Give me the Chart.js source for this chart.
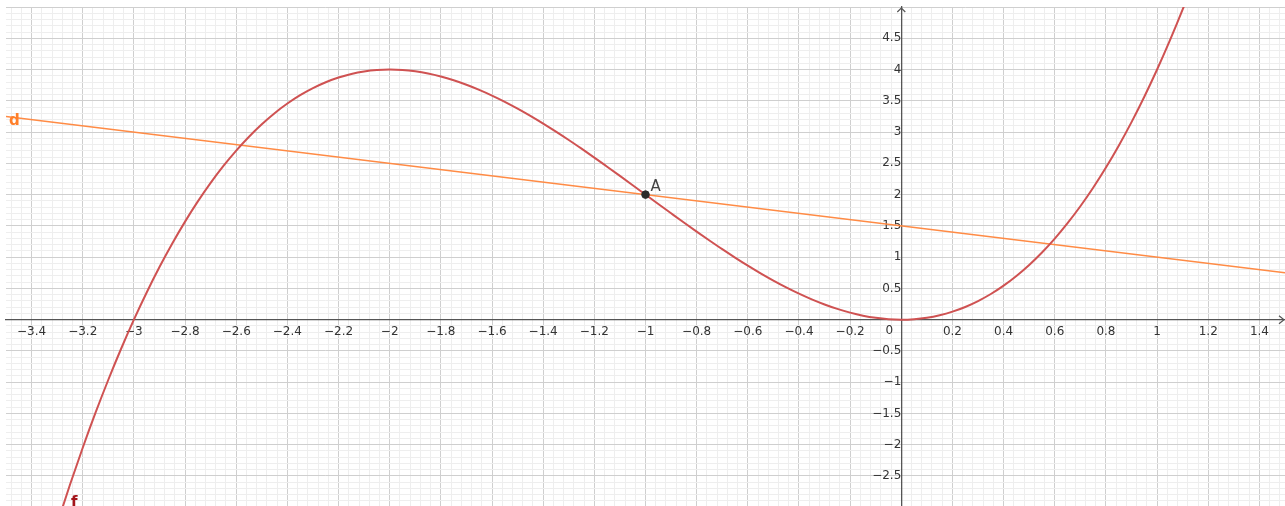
<!DOCTYPE html>
<html>
<head>
<meta charset="utf-8">
<script src="https://cdn.jsdelivr.net/npm/chart.js@4.4.1/dist/chart.umd.min.js"></script>
<style>
  html, body { margin: 0; padding: 0; background: #ffffff; }
  #wrap { width: 1285px; height: 506px; position: relative; }
</style>
</head>
<body>
<div id="wrap"><canvas id="c" width="1285" height="506"></canvas></div>
<script>
// ---- data ----
// curve f
const fX = [-3.30, -3.25, -3.20, -3.15, -3.10, -3.05, -3.00, -2.95, -2.90, -2.85, -2.80, -2.75, -2.70, -2.65,
            -2.60, -2.55, -2.50, -2.45, -2.40, -2.35, -2.30, -2.25, -2.20, -2.15, -2.10, -2.05, -2.00,
            -1.95, -1.90, -1.85, -1.80, -1.75, -1.70, -1.65, -1.60, -1.55, -1.50, -1.45, -1.40, -1.35,
            -1.30, -1.25, -1.20, -1.15, -1.10, -1.05, -1.00, -0.95, -0.90, -0.85, -0.80, -0.75, -0.70,
            -0.65, -0.60, -0.55, -0.50, -0.45, -0.40, -0.35, -0.30, -0.25, -0.20, -0.15, -0.10, -0.05,
            0.00, 0.05, 0.10, 0.15, 0.20, 0.25, 0.30, 0.35, 0.40, 0.45, 0.50, 0.55, 0.60, 0.65, 0.70,
            0.75, 0.80, 0.85, 0.90, 0.95, 1.00, 1.05, 1.10, 1.15];
const fY = [-3.267, -2.641, -2.048, -1.488, -0.961, -0.465, 0.000, 0.435, 0.841, 1.218, 1.568, 1.891, 2.187, 2.458,
            2.704, 2.926, 3.125, 3.302, 3.456, 3.590, 3.703, 3.797, 3.872, 3.929, 3.969, 3.992, 4.000,
            3.993, 3.971, 3.936, 3.888, 3.828, 3.757, 3.675, 3.584, 3.484, 3.375, 3.259, 3.136, 3.007,
            2.873, 2.734, 2.592, 2.446, 2.299, 2.150, 2.000, 1.850, 1.701, 1.553, 1.408, 1.266, 1.127,
            0.993, 0.864, 0.741, 0.625, 0.516, 0.416, 0.325, 0.243, 0.172, 0.112, 0.064, 0.029, 0.007,
            0.000, 0.008, 0.031, 0.071, 0.128, 0.203, 0.297, 0.410, 0.544, 0.699, 0.875, 1.074, 1.296, 1.542, 1.813,
            2.109, 2.432, 2.782, 3.159, 3.565, 4.000, 4.465, 4.961, 5.488];
// line d
const dX = [-3.5, 1.5];
const dY = [3.25, 0.75];
// point A
const aX = [-1];
const aY = [2];
// axis ranges and labelled ticks
const xRange = [-3.5, 1.5];
const yRange = [-2.98, 5.0];
const xTickLabels = [-3.4, -3.2, -3, -2.8, -2.6, -2.4, -2.2, -2, -1.8, -1.6, -1.4, -1.2, -1, -0.8, -0.6, -0.4, -0.2, 0.2, 0.4, 0.6, 0.8, 1, 1.2, 1.4];
const yTickLabels = [4.5, 4, 3.5, 3, 2.5, 2, 1.5, 1, 0.5, -0.5, -1, -1.5, -2, -2.5];
const xMajorStep = 0.2, xMinorStep = 0.04;
const yMajorStep = 0.5, yMinorStep = 0.1;

// ---- helpers ----
const toPts = (xs, ys) => xs.map((x, i) => ({ x: x, y: ys[i] }));
const fmt = v => (v < 0 ? '\u2212' : '') + String(Math.abs(v));
const onStep = (v, s) => Math.abs(v / s - Math.round(v / s)) < 1e-6;
const hasLabel = (arr, v) => arr.some(t => Math.abs(t - v) < 1e-6);

function stepTicks(min, max, step) {
  const out = [];
  const k = Math.round(1 / step);
  for (let i = Math.ceil(min * k - 1e-9); i <= Math.floor(max * k + 1e-9); i++) {
    out.push({ value: i / k });
  }
  return out;
}
function noPad(s) { s.paddingTop = 0; s.paddingBottom = 0; s.paddingLeft = 0; s.paddingRight = 0; }

const MAJOR = '#cfcfcf', MINOR = '#eeeeee', AXIS = '#555555', LABEL = '#333333';
const FONT = 'DejaVu Sans';

const decorPlugin = {
  id: 'decor',
  afterDatasetsDraw(chart) {
    const ctx = chart.ctx;
    const xs = chart.scales.x, ys = chart.scales.y;
    const area = chart.chartArea;
    const x0 = xs.getPixelForValue(0), y0 = ys.getPixelForValue(0);
    ctx.save();
    // axis arrows
    ctx.strokeStyle = AXIS; ctx.lineWidth = 1.2;
    ctx.beginPath();
    ctx.moveTo(x0 - 4, area.top + 5); ctx.lineTo(x0, area.top + 1); ctx.lineTo(x0 + 4, area.top + 5);
    ctx.moveTo(area.right - 6, y0 - 4); ctx.lineTo(area.right - 1, y0); ctx.lineTo(area.right - 6, y0 + 4);
    ctx.stroke();
    // origin label
    ctx.fillStyle = LABEL;
    ctx.font = '12px ' + FONT;
    ctx.textAlign = 'center'; ctx.textBaseline = 'middle';
    ctx.fillText('0', x0 - 12, y0 + 11);
    // point label A
    const ax = xs.getPixelForValue(aX[0]), ay = ys.getPixelForValue(aY[0]);
    ctx.font = '15px ' + FONT;
    ctx.fillStyle = '#444444';
    ctx.textAlign = 'left'; ctx.textBaseline = 'alphabetic';
    ctx.fillText('A', ax + 5, ay - 4);
    // line label d
    ctx.font = 'bold 15px ' + FONT;
    ctx.fillStyle = '#ff7f2a';
    ctx.fillText('d', area.left + 3, ys.getPixelForValue(dY[0]) + 9);
    // curve label f
    ctx.font = 'bold 15px ' + FONT;
    ctx.fillStyle = '#a3141a';
    ctx.fillText('f', xs.getPixelForValue(-3.25) + 1, area.bottom + 1);
    ctx.restore();
  }
};

new Chart(document.getElementById('c'), {
  type: 'scatter',
  data: {
    datasets: [
      {
        label: 'd',
        data: toPts(dX, dY),
        showLine: true,
        borderColor: '#ff8b45',
        borderWidth: 1.6,
        pointRadius: 0,
        order: 2
      },
      {
        label: 'f',
        data: toPts(fX, fY),
        showLine: true,
        borderColor: '#cf5252',
        borderWidth: 2,
        pointRadius: 0,
        cubicInterpolationMode: 'monotone',
        order: 1
      },
      {
        label: 'A',
        data: toPts(aX, aY),
        pointRadius: 3.8,
        pointBackgroundColor: '#2b2b2b',
        pointBorderColor: '#2b2b2b',
        pointBorderWidth: 1,
        order: 0
      }
    ]
  },
  plugins: [decorPlugin],
  options: {
    responsive: false,
    animation: false,
    devicePixelRatio: 1,
    layout: { autoPadding: false, padding: { left: 6, top: 7, right: 0, bottom: 0 } },
    plugins: { legend: { display: false }, tooltip: { enabled: false }, title: { display: false } },
    scales: {
      x: {
        type: 'linear',
        min: xRange[0], max: xRange[1],
        position: { y: 0 },
        afterBuildTicks: s => { s.ticks = stepTicks(xRange[0], xRange[1], xMinorStep); },
        afterFit: noPad,
        grid: {
          drawTicks: false,
          color: c => (c.tick && onStep(c.tick.value, xMajorStep)) ? MAJOR : MINOR,
          lineWidth: 1
        },
        border: { display: true, color: AXIS, width: 1.3 },
        ticks: {
          autoSkip: false, maxRotation: 0, minRotation: 0,
          padding: 5,
          color: LABEL,
          font: { family: FONT, size: 12 },
          callback: v => hasLabel(xTickLabels, v) ? fmt(Math.round(v * 100) / 100) : ''
        }
      },
      y: {
        type: 'linear',
        min: yRange[0], max: yRange[1],
        position: { x: 0 },
        afterBuildTicks: s => { s.ticks = stepTicks(yRange[0], yRange[1], yMinorStep); },
        afterFit: noPad,
        grid: {
          drawTicks: false,
          color: c => (c.tick && onStep(c.tick.value, yMajorStep)) ? MAJOR : MINOR,
          lineWidth: 1
        },
        border: { display: true, color: AXIS, width: 1.3 },
        ticks: {
          autoSkip: false,
          padding: 8,
          color: LABEL,
          font: { family: FONT, size: 12 },
          callback: v => hasLabel(yTickLabels, v) ? fmt(Math.round(v * 100) / 100) : ''
        }
      }
    }
  }
});
</script>
</body>
</html>
